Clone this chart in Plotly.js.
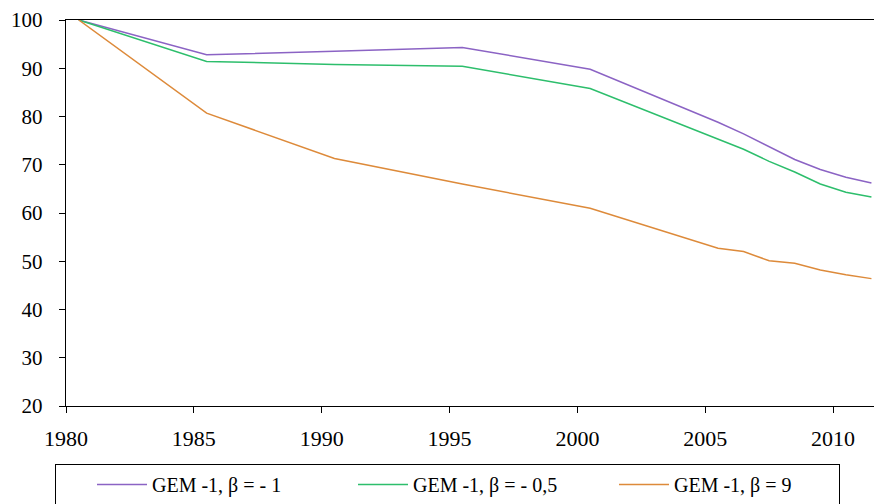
<!DOCTYPE html>
<html>
<head>
<meta charset="utf-8">
<script src="https://cdn.plot.ly/plotly-3.0.1.min.js"></script>
<style>html,body{margin:0;padding:0;background:#fff;}#chart{width:874px;height:504px;}</style>
</head>
<body>
<div id="chart"></div>
<script>
var years = [1980, 1985, 1990, 1995, 2000, 2005, 2006, 2007, 2008, 2009, 2010, 2011];
var gemBetaMinus1 = [100, 92.8, 93.5, 94.3, 89.8, 78.8, 76.4, 73.7, 71.1, 69.0, 67.4, 66.2];
var gemBetaMinus05 = [100, 91.4, 90.8, 90.4, 85.8, 75.3, 73.2, 70.7, 68.5, 66.0, 64.3, 63.3];
var gemBeta9 = [100, 80.7, 71.3, 66.0, 61.0, 52.7, 52.0, 50.1, 49.6, 48.2, 47.2, 46.4];
var seriesNames = ["GEM -1, \u03b2 = - 1", "GEM -1, \u03b2 = - 0,5", "GEM -1, \u03b2 = 9"];
var xTickLabels = [1980, 1985, 1990, 1995, 2000, 2005, 2010];
var yTicks = [20, 30, 40, 50, 60, 70, 80, 90, 100];

var colors = ["#8B63C4", "#2DBE6C", "#DD8A3A"];
var font = "Liberation Serif, Times New Roman, serif";

var traces = [gemBetaMinus1, gemBetaMinus05, gemBeta9].map(function (vals, i) {
  return {
    x: years, y: vals, type: "scatter", mode: "lines", name: seriesNames[i],
    line: {color: colors[i], width: 1.5}, hoverinfo: "x+y"
  };
});

var layout = {
  width: 874, height: 504,
  margin: {l: 66, r: 0, t: 20, b: 98, pad: 0, autoexpand: false},
  paper_bgcolor: "#fff", plot_bgcolor: "#fff",
  font: {family: font, color: "#000", size: 21},
  showlegend: true,
  xaxis: {
    range: [1979.5, 2011.1],
    tickmode: "array",
    tickvals: xTickLabels.map(function (v) { return v - 0.5; }),
    ticktext: xTickLabels.map(String),
    ticks: "outside", ticklen: 6, tickcolor: "#000", tickwidth: 1,
    showline: true, linecolor: "#000", linewidth: 1.3, mirror: true,
    showgrid: false, zeroline: false,
    tickfont: {family: font, size: 22, color: "#000"},
    ticklabelstandoff: 6
  },
  yaxis: {
    range: [20, 100],
    tickmode: "array", tickvals: yTicks, ticktext: yTicks.map(String),
    ticks: "outside", ticklen: 6, tickcolor: "#000", tickwidth: 1,
    showline: true, linecolor: "#000", linewidth: 1.3,
    showgrid: false, zeroline: false,
    tickfont: {family: font, size: 21, color: "#000"},
    ticklabelstandoff: 12
  },
  legend: {
    orientation: "h",
    x: -0.0136, xanchor: "left",
    y: -0.150, yanchor: "top",
    bordercolor: "#000", borderwidth: 1, bgcolor: "#fff",
    font: {family: font, size: 20, color: "#000"},
    entrywidth: 160, entrywidthmode: "pixels",
    itemwidth: 50,
    indentation: 36
  }
};

Plotly.newPlot("chart", traces, layout, {displayModeBar: false, staticPlot: true});
</script>
</body>
</html>
